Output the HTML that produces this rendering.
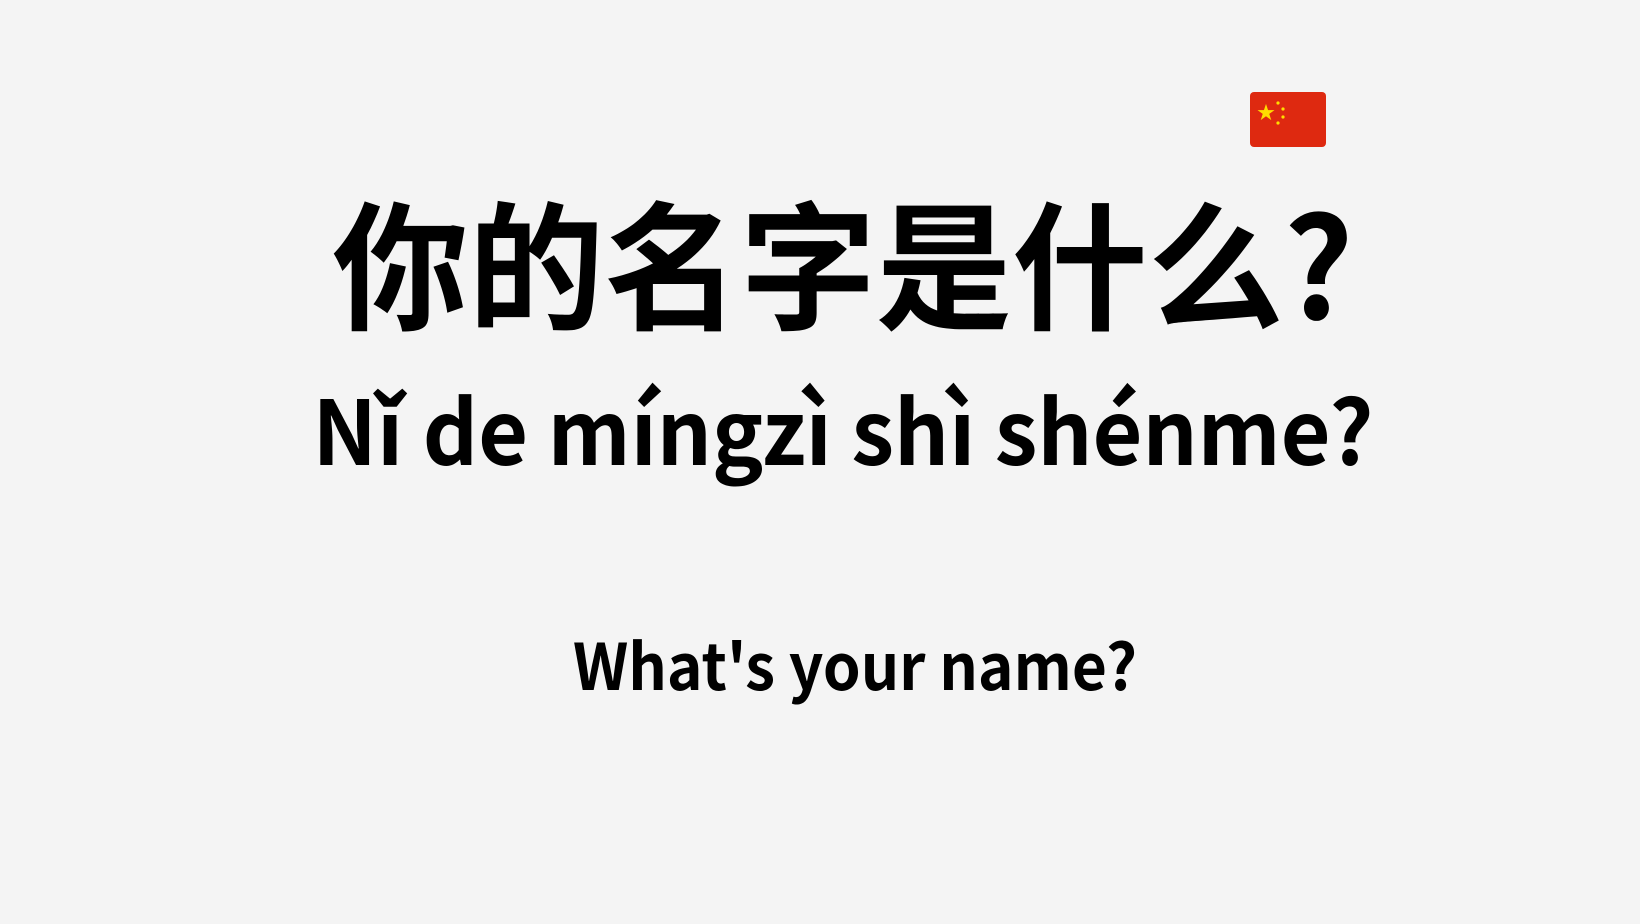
<!DOCTYPE html>
<html>
<head>
<meta charset="utf-8">
<style>
  html, body { margin: 0; padding: 0; background: #f4f4f4; }
  body { width: 1640px; height: 924px; overflow: hidden; position: relative; }
  svg { position: absolute; left: 0; top: 0; }
  text { font-family: "Noto Sans CJK SC", "Liberation Sans", sans-serif; font-weight: 700; fill: #000; }
</style>
</head>
<body>
<svg width="1640" height="924" viewBox="0 0 1640 924">
  <rect width="1640" height="924" fill="#f4f4f4"/>
  <g>
    <rect x="1250" y="92" width="76" height="55" rx="4" fill="#de2910"/>
    <text x="1266" y="119" font-size="18" style="fill:#ffde00" text-anchor="middle">★</text>
    <circle cx="1278" cy="103" r="1.6" fill="#ffde00"/>
    <circle cx="1283" cy="109" r="1.6" fill="#ffde00"/>
    <circle cx="1283" cy="117" r="1.6" fill="#ffde00"/>
    <circle cx="1278" cy="123" r="1.6" fill="#ffde00"/>
  </g>
  <text x="843" y="319" font-size="139" text-anchor="middle" textLength="1021" lengthAdjust="spacingAndGlyphs">你的名字是什么?</text>
  <text x="843" y="465" font-size="89" text-anchor="middle" textLength="1061" lengthAdjust="spacingAndGlyphs">Nǐ de míngzì shì shénme?</text>
  <text x="855" y="690" font-size="64" text-anchor="middle" textLength="564" lengthAdjust="spacingAndGlyphs">What's your name?</text>
</svg>
</body>
</html>
